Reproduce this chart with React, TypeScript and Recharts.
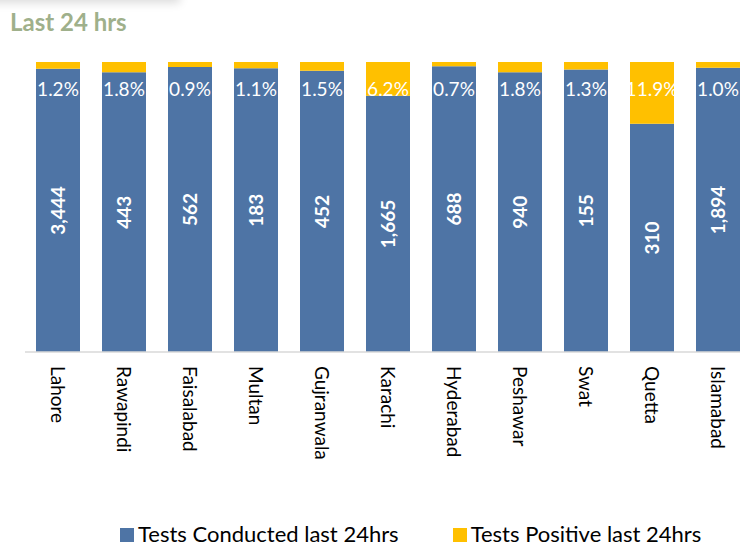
import { BarChart, Bar, XAxis, YAxis, Legend, LabelList } from 'recharts';

const cities = ['Lahore', 'Rawapindi', 'Faisalabad', 'Multan', 'Gujranwala', 'Karachi', 'Hyderabad', 'Peshawar', 'Swat', 'Quetta', 'Islamabad'];
const testsConducted = [3444, 443, 562, 183, 452, 1665, 688, 940, 155, 310, 1894];
const testsPositive = [41, 8, 5, 2, 7, 103, 5, 17, 2, 37, 19];

// 100% stacked shares; the value axis starts at 50%
const data = cities.map((city, i) => {
  const total = testsConducted[i] + testsPositive[i];
  return {
    city,
    conducted: testsConducted[i],
    conductedShare: testsConducted[i] / total,
    positiveShare: testsPositive[i] / total,
    pct: (testsPositive[i] / testsConducted[i]) * 100,
  };
});

const FONT = 'Lato, "Liberation Sans", sans-serif';
const BLUE = '#4e74a5';
const YELLOW = '#ffc000';
const CHART_W = 760;
const CHART_H = 547;
const MARGIN = { top: 62, right: 9, bottom: 0, left: 25 };
const X_AXIS_H = 195;
const PLOT_BOTTOM = CHART_H - MARGIN.bottom - X_AXIS_H;

const CityTick = ({ x, y, payload }: any) => (
  <text
    transform={`translate(${x},${y + 6}) rotate(90)`}
    textAnchor="start"
    dominantBaseline="central"
    fill="#000"
    fontSize={19}
    fontFamily={FONT}
  >
    {payload.value}
  </text>
);

const ConductedLabel = (props: any) => {
  const vb = props.viewBox ?? props;
  const cx = vb.x + vb.width / 2;
  const cy = (vb.y + PLOT_BOTTOM) / 2;
  return (
    <text
      x={cx}
      y={cy}
      transform={`rotate(-90 ${cx} ${cy})`}
      textAnchor="middle"
      dominantBaseline="central"
      fill="#fff"
      fontWeight={700}
      fontSize={19}
      fontFamily={FONT}
    >
      {Number(props.value).toLocaleString('en-US')}
    </text>
  );
};

const PctLabel = (props: any) => {
  const vb = props.viewBox ?? props;
  return (
    <text
      x={vb.x + vb.width / 2}
      y={vb.y + 26}
      textAnchor="middle"
      dominantBaseline="central"
      fill="#fff"
      fontSize={19}
      fontFamily={FONT}
    >
      {Number(props.value).toFixed(1)}%
    </text>
  );
};

const renderLegend = (props: any) => (
  <div style={{ display: 'flex', fontFamily: FONT, fontSize: 22, color: '#000', lineHeight: '22px' }}>
    {props.payload.map((p: any) => (
      <div key={p.value} style={{ display: 'flex', alignItems: 'center', marginRight: 54 }}>
        <span
          style={{
            width: 14,
            height: 14,
            background: p.color,
            marginRight: 4,
            display: 'inline-block',
            position: 'relative',
            top: 1,
          }}
        />
        {p.value}
      </div>
    ))}
  </div>
);

export default function App() {
  return (
    <div style={{ position: 'absolute', left: 0, top: 0, width: 740, height: 547, overflow: 'hidden', background: '#fff' }}>
      <div
        style={{
          position: 'absolute',
          left: -10,
          top: -30,
          width: 190,
          height: 30,
          background: '#fff',
          boxShadow: '0 3px 10px rgba(0,0,0,0.14)',
        }}
      />
      <div
        style={{
          position: 'absolute',
          left: 10,
          top: 9,
          fontFamily: FONT,
          fontWeight: 700,
          fontSize: 24,
          lineHeight: '26px',
          color: '#9fb08b',
        }}
      >
        Last 24 hrs
      </div>
      <div style={{ position: 'absolute', left: 0, top: 0 }}>
        <BarChart width={CHART_W} height={CHART_H} data={data} margin={MARGIN}>
          <XAxis
            dataKey="city"
            interval={0}
            tickLine={false}
            axisLine={{ stroke: '#d9d9d9', strokeWidth: 1.5 }}
            height={X_AXIS_H}
            tick={<CityTick />}
          />
          <YAxis hide type="number" domain={[0.5, 1]} allowDataOverflow />
          <Legend
            layout="horizontal"
            verticalAlign="middle"
            align="center"
            content={renderLegend}
            wrapperStyle={{ top: 523, left: 120, width: 640 }}
          />
          <Bar dataKey="conductedShare" name="Tests Conducted last 24hrs" stackId="a" fill={BLUE} barSize={44} isAnimationActive={false}>
            <LabelList dataKey="conducted" content={ConductedLabel} />
          </Bar>
          <Bar dataKey="positiveShare" name="Tests Positive last 24hrs" stackId="a" fill={YELLOW} barSize={44} isAnimationActive={false}>
            <LabelList dataKey="pct" content={PctLabel} />
          </Bar>
        </BarChart>
      </div>
    </div>
  );
}
